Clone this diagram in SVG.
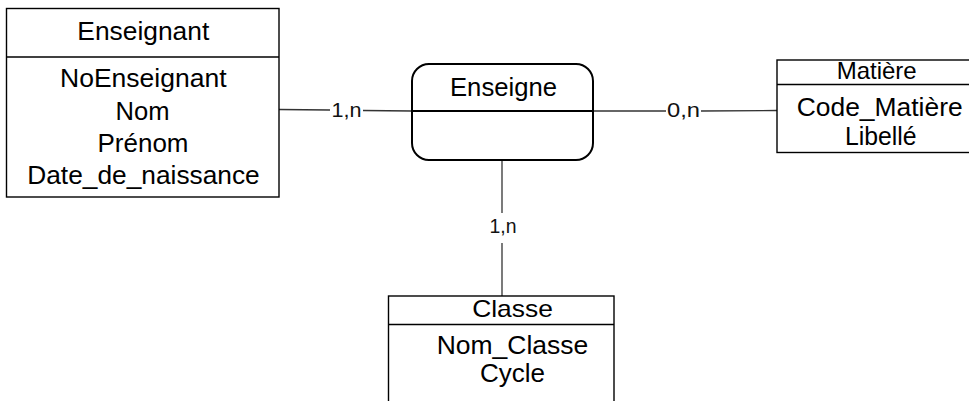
<svg xmlns="http://www.w3.org/2000/svg" width="969" height="401" viewBox="0 0 969 401">
  <style>
    .box { fill: #fff; stroke: #000; stroke-width: 1.4; }
    .assoc { fill: #fff; stroke: #000; stroke-width: 2; }
    .sep { stroke: #000; stroke-width: 1.4; fill: none; }
    .sep2 { stroke: #000; stroke-width: 2; fill: none; }
    .link { stroke: #333; stroke-width: 1.3; fill: none; }
    text { font-family: "Liberation Sans", Arial, sans-serif; fill: #000; text-anchor: middle; }
    .t { font-size: 25px; }
    .h { font-size: 24px; }
    .card { font-size: 20px; fill: #111; }
  </style>
  <rect width="969" height="401" fill="#fff"/>

  <!-- connectors with their cardinalities -->
  <g id="connectors">
    <line class="link" x1="279" y1="109.5" x2="330" y2="110"/>
    <line class="link" x1="363" y1="110.5" x2="412" y2="111"/>
    <text class="card" x="346.5" y="117" textLength="30" lengthAdjust="spacingAndGlyphs">1,n</text>
    <line class="link" x1="593" y1="111" x2="666" y2="111"/>
    <line class="link" x1="701" y1="111" x2="777" y2="110.5"/>
    <text class="card" x="683.5" y="117" textLength="33" lengthAdjust="spacingAndGlyphs">0,n</text>
    <line class="link" x1="502" y1="160" x2="502" y2="213"/>
    <line class="link" x1="502" y1="243" x2="502" y2="296"/>
    <text class="card" x="503" y="233" textLength="27" lengthAdjust="spacingAndGlyphs">1,n</text>
  </g>

  <!-- entity: Enseignant -->
  <g id="enseignant">
    <rect class="box" x="6.5" y="8.5" width="272.5" height="188.5"/>
    <line class="sep" x1="6.5" y1="57" x2="279" y2="57"/>
    <text class="t" x="143.3" y="40" textLength="132" lengthAdjust="spacingAndGlyphs">Enseignant</text>
    <text class="t" x="143.3" y="86.5" textLength="166.5" lengthAdjust="spacingAndGlyphs">NoEnseignant</text>
    <text class="t" x="142.5" y="119.5" textLength="54" lengthAdjust="spacingAndGlyphs">Nom</text>
    <text class="t" x="143" y="152" textLength="91" lengthAdjust="spacingAndGlyphs">Prénom</text>
    <text class="t" x="143.5" y="183.5" textLength="232.5" lengthAdjust="spacingAndGlyphs">Date_de_naissance</text>
  </g>

  <!-- association: Enseigne -->
  <g id="enseigne">
    <rect class="assoc" x="412" y="64" width="181" height="96" rx="17" ry="17"/>
    <line class="sep2" x1="412" y1="111" x2="593" y2="111"/>
    <text class="t" x="503.5" y="96" textLength="107" lengthAdjust="spacingAndGlyphs">Enseigne</text>
  </g>

  <!-- entity: Matière -->
  <g id="matiere">
    <rect class="box" x="777" y="60" width="205" height="92.5"/>
    <line class="sep" x1="777" y1="84.5" x2="982" y2="84.5"/>
    <text class="h" x="876.7" y="79" textLength="80" lengthAdjust="spacingAndGlyphs">Matière</text>
    <text class="t" x="879.7" y="116" textLength="166" lengthAdjust="spacingAndGlyphs">Code_Matière</text>
    <text class="t" x="880.8" y="145" textLength="71.7" lengthAdjust="spacingAndGlyphs">Libellé</text>
  </g>

  <!-- entity: Classe -->
  <g id="classe">
    <rect class="box" x="388.5" y="296" width="225.5" height="130"/>
    <line class="sep" x1="388.5" y1="324.5" x2="614" y2="324.5"/>
    <text class="h" x="512.5" y="317" textLength="80.7" lengthAdjust="spacingAndGlyphs">Classe</text>
    <text class="t" x="512.5" y="353.5" textLength="151.7" lengthAdjust="spacingAndGlyphs">Nom_Classe</text>
    <text class="t" x="512.5" y="382" textLength="65" lengthAdjust="spacingAndGlyphs">Cycle</text>
  </g>
</svg>
